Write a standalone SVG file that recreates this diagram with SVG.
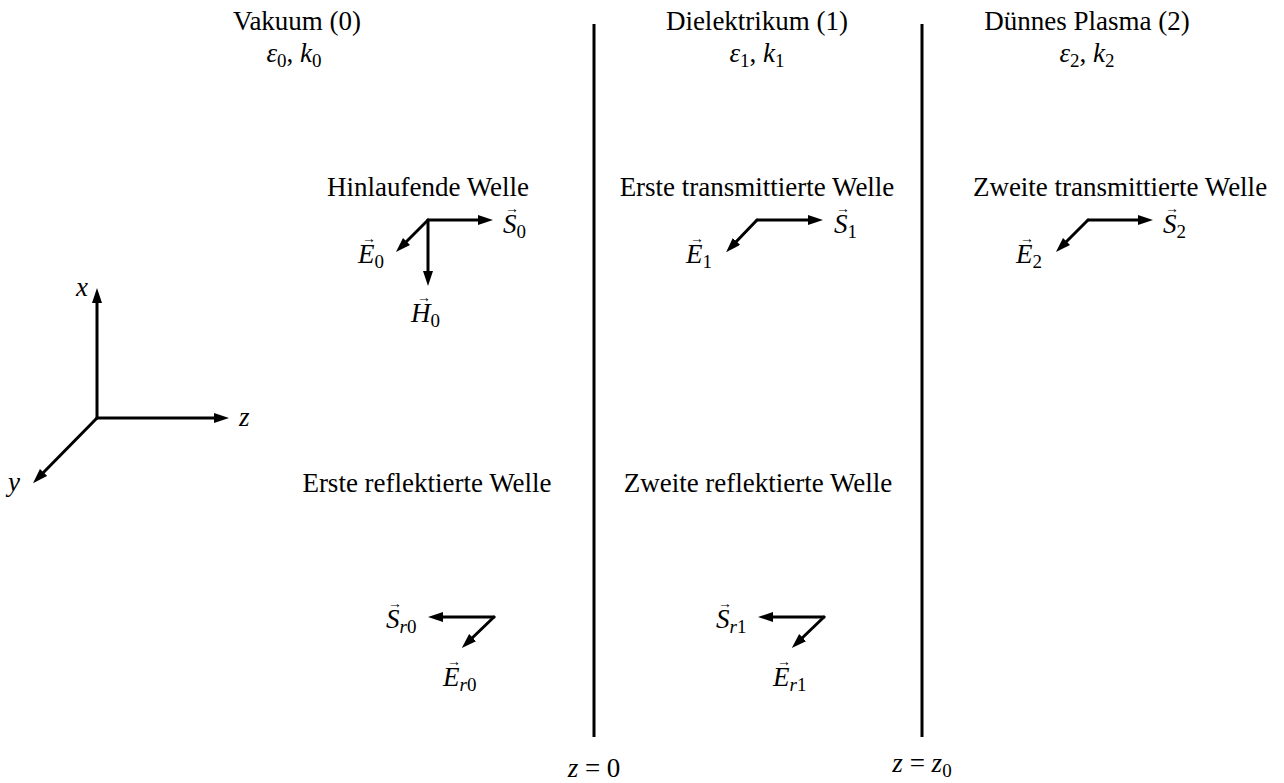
<svg xmlns="http://www.w3.org/2000/svg" width="1284" height="783" viewBox="0 0 1284 783" font-family="'Liberation Serif', 'DejaVu Serif', 'Noto Serif', 'Times New Roman', Times, serif">
<defs>
<marker id="ah" markerUnits="userSpaceOnUse" markerWidth="16" markerHeight="11" refX="5" refY="5" orient="auto">
<path d="M0,0 L15,5 L0,10 Z" fill="#000"/>
</marker>
<style>
text{font-size:27px;fill:#000}
.t{text-anchor:middle}
.i{font-style:italic}
.sub{font-size:19px;font-style:normal}
.vec{font-size:14px;font-style:normal;text-anchor:middle}
.l{text-anchor:start}
.arr{stroke:#000;stroke-width:3;fill:none;stroke-linecap:round;marker-end:url(#ah)}
.wall{stroke:#000;stroke-width:3}
</style>
</defs>
<rect width="1284" height="783" fill="#fff"/>

<g id="media-headers">
<text class="t" x="297" y="30">Vakuum (0)</text>
<text class="t" x="294" y="62"><tspan class="i">ε</tspan><tspan class="sub" dy="5">0</tspan><tspan dy="-5">, </tspan><tspan class="i">k</tspan><tspan class="sub" dy="5">0</tspan></text>
<text class="t" x="757" y="30">Dielektrikum (1)</text>
<text class="t" x="757" y="62"><tspan class="i">ε</tspan><tspan class="sub" dy="5">1</tspan><tspan dy="-5">, </tspan><tspan class="i">k</tspan><tspan class="sub" dy="5">1</tspan></text>
<text class="t" x="1087" y="30">Dünnes Plasma (2)</text>
<text class="t" x="1087" y="62"><tspan class="i">ε</tspan><tspan class="sub" dy="5">2</tspan><tspan dy="-5">, </tspan><tspan class="i">k</tspan><tspan class="sub" dy="5">2</tspan></text>
</g>

<g id="interface-0">
<line class="wall" x1="594" y1="24" x2="594" y2="737"/>
<text class="t" x="594" y="777"><tspan class="i">z</tspan> = 0</text>
</g>
<g id="interface-z0">
<line class="wall" x1="922" y1="24" x2="922" y2="737"/>
<text class="t" x="922" y="772"><tspan class="i">z</tspan> = <tspan class="i">z</tspan><tspan class="sub" dy="5">0</tspan></text>
</g>

<g id="axes">
<path class="arr" d="M97,418 L97,298"/>
<path class="arr" d="M97,418 L219,418"/>
<path class="arr" d="M97,418 L40,476"/>
<text class="i" x="76" y="296">x</text>
<text class="i" x="239" y="426">z</text>
<text class="i" x="8" y="491">y</text>
</g>

<g id="incident-wave">
<text class="t" x="428" y="196">Hinlaufende Welle</text>
<path class="arr" d="M428,220 L483,220"/>
<path class="arr" d="M428,220 L403,245"/>
<path class="arr" d="M428,220 L428,276"/>
<text><tspan class="vec" x="512" y="213">→</tspan><tspan class="i l" x="503" y="233">S</tspan><tspan class="sub" dy="5">0</tspan></text>
<text><tspan class="vec" x="369" y="243">→</tspan><tspan class="i l" x="358" y="263">E</tspan><tspan class="sub" dy="5">0</tspan></text>
<text><tspan class="vec" x="424" y="302">→</tspan><tspan class="i l" x="411" y="322">H</tspan><tspan class="sub" dy="5">0</tspan></text>
</g>

<g id="first-transmitted-wave">
<text class="t" x="757" y="196">Erste transmittierte Welle</text>
<path class="arr" d="M757,220 L813,220"/>
<path class="arr" d="M757,220 L733,245"/>
<text><tspan class="vec" x="843" y="213">→</tspan><tspan class="i l" x="834" y="233">S</tspan><tspan class="sub" dy="5">1</tspan></text>
<text><tspan class="vec" x="697" y="243">→</tspan><tspan class="i l" x="686" y="263">E</tspan><tspan class="sub" dy="5">1</tspan></text>
</g>

<g id="second-transmitted-wave">
<text class="t" x="1120" y="196">Zweite transmittierte Welle</text>
<path class="arr" d="M1088,220 L1143,220"/>
<path class="arr" d="M1088,220 L1063,245"/>
<text><tspan class="vec" x="1172" y="213">→</tspan><tspan class="i l" x="1163" y="233">S</tspan><tspan class="sub" dy="5">2</tspan></text>
<text><tspan class="vec" x="1027" y="243">→</tspan><tspan class="i l" x="1016" y="263">E</tspan><tspan class="sub" dy="5">2</tspan></text>
</g>

<g id="first-reflected-wave">
<text class="t" x="427" y="492">Erste reflektierte Welle</text>
<path class="arr" d="M494,617 L438,617"/>
<path class="arr" d="M494,617 L469,641"/>
<text><tspan class="vec" x="395" y="608">→</tspan><tspan class="i l" x="386" y="628">S</tspan><tspan class="sub" dy="5"><tspan class="i">r</tspan>0</tspan></text>
<text><tspan class="vec" x="454" y="666">→</tspan><tspan class="i l" x="443" y="686">E</tspan><tspan class="sub" dy="5"><tspan class="i">r</tspan>0</tspan></text>
</g>

<g id="second-reflected-wave">
<text class="t" x="758" y="492">Zweite reflektierte Welle</text>
<path class="arr" d="M824,617 L768,617"/>
<path class="arr" d="M824,617 L799,641"/>
<text><tspan class="vec" x="725" y="608">→</tspan><tspan class="i l" x="716" y="628">S</tspan><tspan class="sub" dy="5"><tspan class="i">r</tspan>1</tspan></text>
<text><tspan class="vec" x="784" y="666">→</tspan><tspan class="i l" x="773" y="686">E</tspan><tspan class="sub" dy="5"><tspan class="i">r</tspan>1</tspan></text>
</g>
</svg>
